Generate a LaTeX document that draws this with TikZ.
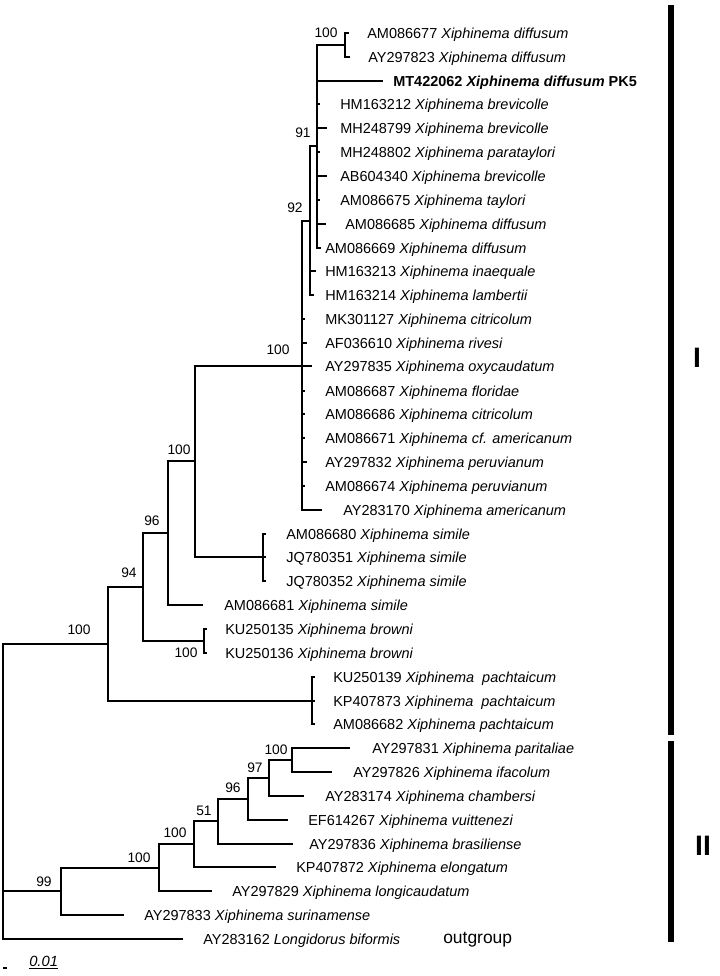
\documentclass[tikz,border=0pt]{standalone}
\usepackage{fontspec}
\setmainfont{Liberation Sans}

\begin{document}
\begin{tikzpicture}[x=0.025cm,y=-0.025cm,
	branch/.style={line width=0.9pt,to path={|- (\tikztotarget)}},
	boldbranch/.style={line width=2.1pt},
	taxon/.style={anchor=west,inner sep=0pt,text height=7.4pt,text depth=0pt,font=\fontsize{10.3}{12}\selectfont},
	boot/.style={inner sep=0pt,text height=7pt,text depth=0pt,font=\fontsize{9.8}{12}\selectfont},
	cladebar/.style={line width=4.6pt},
	cladename/.style={inner sep=0pt,font=\fontsize{20}{22}\selectfont\bfseries}]
	\useasboundingbox (0,0) rectangle (720,976);

	% internal nodes
	\coordinate (root) at (3, 791);
	\coordinate (nE)   at (108, 644);
	\coordinate (nD)   at (143, 587);
	\coordinate (nC)   at (168, 533);
	\coordinate (nB)   at (195, 461);
	\coordinate (nAm)  at (302, 366);
	\coordinate (n92)  at (310, 221);
	\coordinate (n91)  at (317, 146);
	\coordinate (nDif) at (345, 45);
	\coordinate (nSim) at (263, 557);
	\coordinate (nBro) at (204, 641);
	\coordinate (nPac) at (312, 701);
	\coordinate (nN)   at (61, 891);
	\coordinate (nM)   at (159, 868);
	\coordinate (nL)   at (194, 844);
	\coordinate (nK)   at (218, 821);
	\coordinate (nH)   at (248, 799);
	\coordinate (nG)   at (269, 778);
	\coordinate (nF)   at (292, 760);

	% tips
	\coordinate (t0)  at (349, 33);
	\coordinate (t1)  at (350, 57);
	\coordinate (t2)  at (383, 81);
	\coordinate (t3)  at (320, 104);
	\coordinate (t4)  at (327, 128);
	\coordinate (t5)  at (320, 152);
	\coordinate (t6)  at (327, 176);
	\coordinate (t7)  at (320, 200);
	\coordinate (t8)  at (326, 224);
	\coordinate (t9)  at (321, 248);
	\coordinate (t10) at (316, 271);
	\coordinate (t11) at (314, 295);
	\coordinate (t12) at (305, 319);
	\coordinate (t13) at (307, 343);
	\coordinate (t14) at (312, 366);
	\coordinate (t15) at (305, 391);
	\coordinate (t16) at (305, 414);
	\coordinate (t17) at (305, 438);
	\coordinate (t18) at (307, 462);
	\coordinate (t19) at (305, 486);
	\coordinate (t20) at (322, 510);
	\coordinate (t21) at (266, 534);
	\coordinate (t22) at (266, 557);
	\coordinate (t23) at (266, 581);
	\coordinate (t24) at (203, 605);
	\coordinate (t25) at (207, 629);
	\coordinate (t26) at (207, 653);
	\coordinate (t27) at (315, 677);
	\coordinate (t28) at (315, 701);
	\coordinate (t29) at (315, 724);
	\coordinate (t30) at (350, 748);
	\coordinate (t31) at (332, 772);
	\coordinate (t32) at (304, 796);
	\coordinate (t33) at (288, 820);
	\coordinate (t34) at (293, 844);
	\coordinate (t35) at (276, 867);
	\coordinate (t36) at (212, 891);
	\coordinate (t37) at (124, 915);
	\coordinate (t38) at (183, 939);

	% taxa
	\node[taxon] (AM086677) at (367, 33)  {AM086677 \textit{Xiphinema diffusum}};
	\node[taxon] (AY297823) at (368, 57)  {AY297823 \textit{Xiphinema diffusum}};
	\node[taxon] (MT422062) at (393, 81)  {\textbf{MT422062 \textit{Xiphinema diffusum} PK5}};
	\node[taxon] (HM163212) at (340, 104) {HM163212 \textit{Xiphinema brevicolle}};
	\node[taxon] (MH248799) at (340, 128) {MH248799 \textit{Xiphinema brevicolle}};
	\node[taxon] (MH248802) at (340, 152) {MH248802 \textit{Xiphinema parataylori}};
	\node[taxon] (AB604340) at (340, 176) {AB604340 \textit{Xiphinema brevicolle}};
	\node[taxon] (AM086675) at (340, 200) {AM086675 \textit{Xiphinema taylori}};
	\node[taxon] (AM086685) at (345, 224) {AM086685 \textit{Xiphinema diffusum}};
	\node[taxon] (AM086669) at (325, 248) {AM086669 \textit{Xiphinema diffusum}};
	\node[taxon] (HM163213) at (325, 271) {HM163213 \textit{Xiphinema inaequale}};
	\node[taxon] (HM163214) at (325, 295) {HM163214 \textit{Xiphinema lambertii}};
	\node[taxon] (MK301127) at (325, 319) {MK301127 \textit{Xiphinema citricolum}};
	\node[taxon] (AF036610) at (325, 343) {AF036610 \textit{Xiphinema rivesi}};
	\node[taxon] (AY297835) at (325, 366) {AY297835 \textit{Xiphinema oxycaudatum}};
	\node[taxon] (AM086687) at (325, 391) {AM086687 \textit{Xiphinema floridae}};
	\node[taxon] (AM086686) at (325, 414) {AM086686 \textit{Xiphinema citricolum}};
	\node[taxon] (AM086671) at (325, 438) {AM086671 \textit{Xiphinema cf. americanum}};
	\node[taxon] (AY297832) at (325, 462) {AY297832 \textit{Xiphinema peruvianum}};
	\node[taxon] (AM086674) at (325, 486) {AM086674 \textit{Xiphinema peruvianum}};
	\node[taxon] (AY283170) at (343, 510) {AY283170 \textit{Xiphinema americanum}};
	\node[taxon] (AM086680) at (286, 534) {AM086680 \textit{Xiphinema simile}};
	\node[taxon] (JQ780351) at (286, 557) {JQ780351 \textit{Xiphinema simile}};
	\node[taxon] (JQ780352) at (286, 581) {JQ780352 \textit{Xiphinema simile}};
	\node[taxon] (AM086681) at (224, 605) {AM086681 \textit{Xiphinema simile}};
	\node[taxon] (KU250135) at (225, 629) {KU250135 \textit{Xiphinema browni}};
	\node[taxon] (KU250136) at (225, 653) {KU250136 \textit{Xiphinema browni}};
	\node[taxon] (KU250139) at (333, 677) {KU250139 \textit{Xiphinema\ \ pachtaicum}};
	\node[taxon] (KP407873) at (333, 701) {KP407873 \textit{Xiphinema\ \ pachtaicum}};
	\node[taxon] (AM086682) at (333, 724) {AM086682 \textit{Xiphinema pachtaicum}};
	\node[taxon] (AY297831) at (372, 748) {AY297831 \textit{Xiphinema paritaliae}};
	\node[taxon] (AY297826) at (353, 772) {AY297826 \textit{Xiphinema ifacolum}};
	\node[taxon] (AY283174) at (325, 796) {AY283174 \textit{Xiphinema chambersi}};
	\node[taxon] (EF614267) at (308, 820) {EF614267 \textit{Xiphinema vuittenezi}};
	\node[taxon] (AY297836) at (309, 844) {AY297836 \textit{Xiphinema brasiliense}};
	\node[taxon] (KP407872) at (296, 867) {KP407872 \textit{Xiphinema elongatum}};
	\node[taxon] (AY297829) at (232, 891) {AY297829 \textit{Xiphinema longicaudatum}};
	\node[taxon] (AY297833) at (144, 915) {AY297833 \textit{Xiphinema surinamense}};
	\node[taxon] (AY283162) at (203, 939) {AY283162 \textit{Longidorus biformis}};
	\node[anchor=base west,inner sep=0pt,font=\fontsize{12.4}{14}\selectfont] (outgroup) at (443, 943) {outgroup};

	% bootstrap values
	\node[boot] (bDif) at (326, 33)  {100};
	\node[boot] (b91)  at (303, 133) {91};
	\node[boot] (b92)  at (295, 208) {92};
	\node[boot] (bAm)  at (278, 350) {100};
	\node[boot] (bB)   at (179, 450) {100};
	\node[boot] (bC)   at (152, 521) {96};
	\node[boot] (bD)   at (129, 573) {94};
	\node[boot] (bE)   at (79, 630)  {100};
	\node[boot] (bBro) at (186, 653) {100};
	\node[boot] (bN)   at (44, 882)  {99};
	\node[boot] (bM)   at (139, 858) {100};
	\node[boot] (bL)   at (175, 833) {100};
	\node[boot] (bK)   at (204, 811) {51};
	\node[boot] (bH)   at (233, 788) {96};
	\node[boot] (bG)   at (255, 768) {97};
	\node[boot] (bF)   at (276, 750) {100};

	% branches
	\path (root) edge[branch] (nE);
	\path (root) edge[branch] (nN);
	\path (root) edge[branch] (t38);
	\path (nE) edge[branch] (nD);
	\path (nE) edge[branch] (nPac);
	\path (nD) edge[branch] (nC);
	\path (nD) edge[branch] (nBro);
	\path (nC) edge[branch] (nB);
	\path (nC) edge[branch] (t24);
	\path (nB) edge[branch] (nAm);
	\path (nB) edge[branch] (nSim);
	\path (nAm) edge[branch] (n92);
	\path (nAm) edge[branch] (t12);
	\path (nAm) edge[branch] (t13);
	\path (nAm) edge[branch] (t15);
	\path (nAm) edge[branch] (t16);
	\path (nAm) edge[branch] (t17);
	\path (nAm) edge[branch] (t18);
	\path (nAm) edge[branch] (t19);
	\path (nAm) edge[branch] (t20);
	\path (n92) edge[branch] (n91);
	\path (n92) edge[branch] (t10);
	\path (n92) edge[branch] (t11);
	\path (n91) edge[branch] (nDif);
	\path (n91) edge[branch] (t2);
	\path (n91) edge[branch] (t3);
	\path (n91) edge[branch] (t4);
	\path (n91) edge[branch] (t5);
	\path (n91) edge[branch] (t6);
	\path (n91) edge[branch] (t7);
	\path (n91) edge[branch] (t8);
	\path (n91) edge[branch] (t9);
	\path (nDif) edge[branch] (t0);
	\path (nDif) edge[branch] (t1);
	\path (nSim) edge[branch] (t21);
	\path (nSim) edge[branch] (t22);
	\path (nSim) edge[branch] (t23);
	\path (nBro) edge[branch] (t25);
	\path (nBro) edge[branch] (t26);
	\path (nPac) edge[branch] (t27);
	\path (nPac) edge[branch] (t28);
	\path (nPac) edge[branch] (t29);
	\path (nN) edge[branch] (nM);
	\path (nN) edge[branch] (t37);
	\path (nM) edge[branch] (nL);
	\path (nM) edge[branch] (t36);
	\path (nL) edge[branch] (nK);
	\path (nL) edge[branch] (t35);
	\path (nK) edge[branch] (nH);
	\path (nK) edge[branch] (t34);
	\path (nH) edge[branch] (nG);
	\path (nH) edge[branch] (t33);
	\path (nG) edge[branch] (nF);
	\path (nG) edge[branch] (t32);
	\path (nF) edge[branch] (t30);
	\path (nF) edge[branch] (t31);
	\draw[boldbranch] (nB |- nAm) -- (t14);

	% clades
	\coordinate (barIa)  at (671, 5);
	\coordinate (barIb)  at (671, 735);
	\coordinate (barIIa) at (671, 741);
	\coordinate (barIIb) at (671, 942);
	\draw[cladebar] (barIa) -- (barIb);
	\draw[cladebar] (barIIa) -- (barIIb);
	\node[cladename] (cladeI)  at (697, 358) {I};
	\node[cladename] (cladeII) at (703, 846) {II};

	% scale
	\coordinate (sbA) at (3, 968);
	\coordinate (sbB) at (7, 968);
	\draw[line width=0.9pt] (sbA) -- (sbB);
	\node[anchor=base west,inner sep=0pt,font=\fontsize{10.5}{12}\selectfont] (scale) at (29, 966) {\underline{\textit{0.01}}};
\end{tikzpicture}
\end{document}
